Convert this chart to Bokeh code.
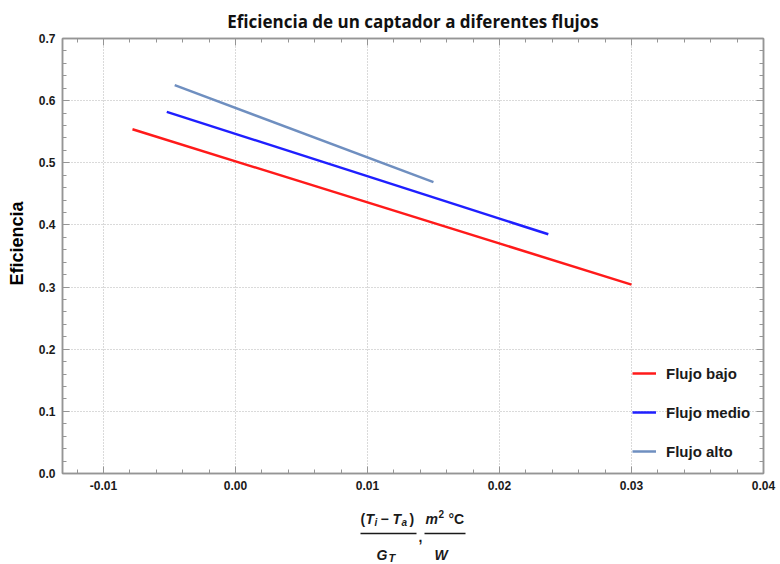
from bokeh.plotting import figure
from bokeh.models import (Range1d, LinearAxis, SingleIntervalTicker, PrintfTickFormatter,
                          Legend, LegendItem, Grid)
from bokeh.layouts import column
from bokeh.core.properties import value
from bokeh.embed import file_html
from bokeh.resources import INLINE

# ---------------- data ----------------
series_names = ["Flujo bajo", "Flujo medio", "Flujo alto"]
series_colors = ["#ff1a1a", "#1f1fff", "#6f8fc0"]
flujo_bajo_x = [-0.0078, 0.0300]
flujo_bajo_y = [0.554, 0.304]
flujo_medio_x = [-0.0052, 0.0237]
flujo_medio_y = [0.582, 0.385]
flujo_alto_x = [-0.0046, 0.0150]
flujo_alto_y = [0.625, 0.469]
x_limits = [-0.0131, 0.0400001]
y_limits = [0.0, 0.7000001]
x_tick_step = 0.01
y_tick_step = 0.1

title_text = "Eficiencia de un captador a diferentes flujos"
y_label = "\u00a0" * 5 + "Eficiencia"

FRAME = "#959595"
TXT = "#1a1a1a"
W = 776
BL, BR = 62, 13

p = figure(width=W, height=501,
           x_range=Range1d(*x_limits), y_range=Range1d(*y_limits),
           x_axis_type=None, y_axis_type=None,
           output_backend="svg", toolbar_location=None,
           min_border_left=BL, min_border_right=BR, min_border_top=38, min_border_bottom=28)
p.outline_line_color = FRAME
p.outline_line_width = 1.5

p.title.text = title_text
p.title.align = "center"
p.title.text_font = "Open Sans"
p.title.text_font_size = "17px"
p.title.text_font_style = "bold"
p.title.text_color = "#111111"
p.title.standoff = 11

xt = SingleIntervalTicker(interval=x_tick_step, num_minor_ticks=5)
yt = SingleIntervalTicker(interval=y_tick_step, num_minor_ticks=5)


def make_axis(ticker, fmt, labels):
    ax = LinearAxis(ticker=ticker)
    ax.formatter = PrintfTickFormatter(format=fmt)
    ax.axis_line_color = FRAME
    ax.axis_line_width = 1.5
    ax.major_tick_line_color = FRAME
    ax.minor_tick_line_color = FRAME
    ax.major_tick_in = 7
    ax.major_tick_out = 0
    ax.minor_tick_in = 4
    ax.minor_tick_out = 0
    ax.major_tick_line_width = 1
    ax.minor_tick_line_width = 1
    if labels:
        ax.major_label_text_font = "Liberation Sans"
        ax.major_label_text_font_style = "bold"
        ax.major_label_text_font_size = "12px"
        ax.major_label_text_color = TXT
        ax.major_label_standoff = 7
    else:
        ax.major_label_text_font_size = "0px"
        ax.major_label_standoff = 0
        ax.major_label_text_alpha = 0
    return ax


xb = make_axis(xt, "%.2f", True)
yl = make_axis(yt, "%.1f", True)
yl.axis_label = y_label
yl.axis_label_text_font = "Liberation Sans"
yl.axis_label_text_font_style = "bold"
yl.axis_label_text_font_size = "18px"
yl.axis_label_text_color = "#000000"
yl.axis_label_standoff = 9
xa = make_axis(xt, "%.2f", False)
yr = make_axis(yt, "%.1f", False)
p.add_layout(xb, "below")
p.add_layout(yl, "left")
p.add_layout(xa, "above")
p.add_layout(yr, "right")

p.add_layout(Grid(dimension=0, ticker=xt, grid_line_color="#b4b4b4", grid_line_dash="1 2"))
p.add_layout(Grid(dimension=1, ticker=yt, grid_line_color="#b4b4b4", grid_line_dash="1 2"))

items = []
for name, col, xs, ys in zip(series_names, series_colors,
                             [flujo_bajo_x, flujo_medio_x, flujo_alto_x],
                             [flujo_bajo_y, flujo_medio_y, flujo_alto_y]):
    r = p.line(xs, ys, line_color=col, line_width=2.5)
    items.append(LegendItem(label=name, renderers=[r]))

legend = Legend(items=items, location=(570, 12), padding=0, spacing=19,
                glyph_width=24, glyph_height=20, label_height=20, label_standoff=10,
                border_line_color=None, background_fill_alpha=0,
                label_text_font="Liberation Sans", label_text_font_style="bold",
                label_text_font_size="15px", label_text_color=TXT)
p.add_layout(legend, "center")

# ---------- x-axis label drawn as a fraction (page-pixel coordinates) ----------
H2 = 62
q = figure(width=W, height=H2, x_range=Range1d(BL, W - BR), y_range=Range1d(H2, 0),
           x_axis_type=None, y_axis_type=None, output_backend="svg",
           toolbar_location=None, min_border_left=BL, min_border_right=BR,
           min_border_top=0, min_border_bottom=0)
q.outline_line_color = None
q.grid.visible = False

NUM, BAR, DEN = 17, 32, 53
pieces = [
    ("(", 360, NUM, 14, "bold"),
    ("T", 365, NUM, 14, "bold italic"),
    ("i", 374, NUM + 4, 10, "bold italic"),
    ("\u2212", 380, NUM, 14, "bold"),
    ("T", 392, NUM, 14, "bold italic"),
    ("a", 401, NUM + 4, 10, "bold italic"),
    (")", 409, NUM, 14, "bold"),
    (",", 418, BAR + 3, 14, "bold"),
    ("m", 425, NUM, 14, "bold italic"),
    ("2", 438, NUM - 5, 10, "bold"),
    ("\u00b0C", 448, NUM, 14, "bold"),
    ("G", 376, DEN, 14, "bold italic"),
    ("T", 388, DEN + 3, 11, "bold italic"),
    ("W", 434, DEN, 14, "bold italic"),
]
for t, x, y, s, st in pieces:
    q.text(x=[x], y=[y], text=[t], text_font=value("Liberation Sans"),
           text_font_size=f"{s}px", text_font_style=st, text_color=TXT,
           text_baseline="middle", text_align="left")
q.segment(x0=[360, 424], y0=[BAR, BAR], x1=[416, 465], y1=[BAR, BAR],
          line_color=TXT, line_width=1.6)

layout = column(p, q, spacing=0)
open("out.html", "w").write(file_html(layout, INLINE))
